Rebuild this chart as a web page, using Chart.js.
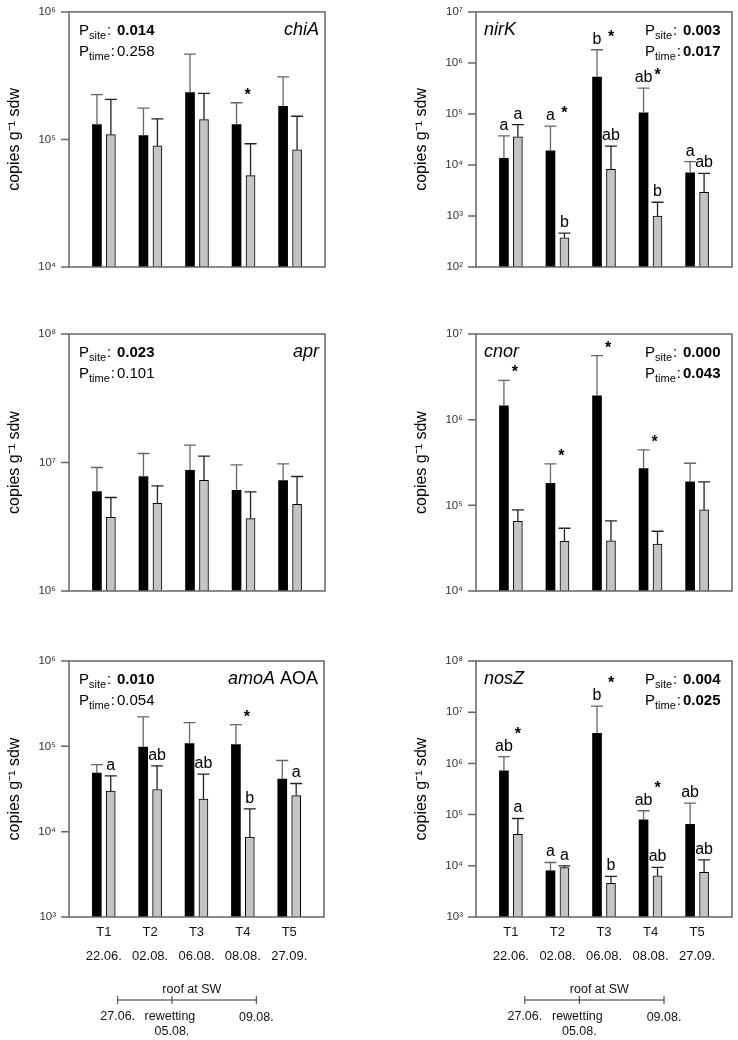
<!DOCTYPE html>
<html>
<head>
<title>Gene copies per site and time</title>
<script src="https://cdn.jsdelivr.net/npm/chart.js"></script>
<style>
  body { margin: 0; background: #fff; }
  canvas { position: absolute; }
</style>
</head>
<body>
<canvas id="chiA" width="369" height="290" style="left:0;top:0"></canvas>
<canvas id="nirK" width="369" height="290" style="left:369px;top:0"></canvas>
<canvas id="apr" width="369" height="330" style="left:0;top:290px"></canvas>
<canvas id="cnor" width="369" height="330" style="left:369px;top:290px"></canvas>
<canvas id="amoA" width="369" height="420" style="left:0;top:620px"></canvas>
<canvas id="nosZ" width="369" height="420" style="left:369px;top:620px"></canvas>

<script>
// sampling times
const times = ['T1', 'T2', 'T3', 'T4', 'T5'];
const dates = ['22.06.', '02.08.', '06.08.', '08.08.', '27.09.'];

// chiA
const chiABlack = [1.31e5, 1.07e5, 2.33e5, 1.31e5, 1.82e5];
const chiABlackUp = [2.25e5, 1.76e5, 4.67e5, 1.94e5, 3.10e5];
const chiAGray = [1.09e5, 8.9e4, 1.43e5, 5.2e4, 8.3e4];
const chiAGrayUp = [2.06e5, 1.45e5, 2.30e5, 9.25e4, 1.52e5];
const chiAStars = [0, 0, 0, 1, 0];

// nirK
const nirKBlack = [1.35e4, 1.89e4, 5.28e5, 1.05e5, 7.05e3];
const nirKBlackUp = [3.72e4, 5.75e4, 1.81e6, 3.22e5, 1.16e4];
const nirKGray = [3.56e4, 373, 8.2e3, 1.0e3, 2.92e3];
const nirKGrayUp = [6.2e4, 461, 2.34e4, 1.86e3, 6.86e3];
const nirKBlackLetters = ['a', 'a', 'b', 'ab', 'a'];
const nirKGrayLetters = ['a', 'b', 'ab', 'b', 'ab'];
const nirKStars = [0, 1, 1, 1, 0];

// apr
const aprBlack = [5.94e6, 7.78e6, 8.71e6, 6.08e6, 7.24e6];
const aprBlackUp = [9.14e6, 1.175e7, 1.365e7, 9.59e6, 9.77e6];
const aprGray = [3.75e6, 4.82e6, 7.28e6, 3.66e6, 4.73e6];
const aprGrayUp = [5.34e6, 6.58e6, 1.12e7, 5.91e6, 7.78e6];

// cnor
const cnorBlack = [1.45e6, 1.81e5, 1.90e6, 2.69e5, 1.88e5];
const cnorBlackUp = [2.87e6, 3.05e5, 5.58e6, 4.45e5, 3.1e5];
const cnorGray = [6.52e4, 3.8e4, 3.84e4, 3.54e4, 8.85e4];
const cnorGrayUp = [8.85e4, 5.4e4, 6.58e4, 4.98e4, 1.88e5];
const cnorStars = [1, 1, 1, 1, 0];

// amoA AOA
const amoABlack = [4.85e4, 9.77e4, 1.08e5, 1.05e5, 4.12e4];
const amoABlackUp = [6.12e4, 2.21e5, 1.9e5, 1.8e5, 6.82e4];
const amoAGray = [2.98e4, 3.12e4, 2.41e4, 8.63e3, 2.65e4];
const amoAGrayUp = [4.51e4, 5.9e4, 4.72e4, 1.85e4, 3.67e4];
const amoAGrayLetters = ['a', 'ab', 'ab', 'b', 'a'];
const amoAStars = [0, 0, 0, 1, 0];

// nosZ
const nosZBlack = [7.15e5, 8.0e3, 3.88e6, 7.92e4, 6.42e4];
const nosZBlackUp = [1.36e6, 1.16e4, 1.32e7, 1.19e5, 1.67e5];
const nosZGray = [4.1e4, 9.2e3, 4.54e3, 6.4e3, 7.43e3];
const nosZGrayUp = [8.4e4, 1.0e4, 6.21e3, 9.3e3, 1.31e4];
const nosZBlackLetters = ['ab', 'a', 'b', 'ab', 'ab'];
const nosZGrayLetters = ['a', 'a', 'b', 'ab', 'ab'];
const nosZStars = [1, 0, 1, 1, 0];

// timeline under the bottom panels (positions on the time axis)
const roofStart = 0.3, rewetting = 1.47, roofEnd = 3.29;

const FONT = "'Liberation Sans', Arial, sans-serif";
Chart.defaults.font.family = FONT;
Chart.defaults.color = '#000';

const SUP = {'-': '⁻', '0': '⁰', '1': '¹', '2': '²', '3': '³', '4': '⁴', '5': '⁵', '6': '⁶', '7': '⁷', '8': '⁸', '9': '⁹'};
const sup = s => String(s).split('').map(c => SUP[c]).join('');

function drawP(ctx, x, y, sub, val) {
  const bold = parseFloat(val) < 0.05;
  ctx.textAlign = 'left';
  ctx.font = '15px ' + FONT;
  ctx.fillText('P', x, y);
  ctx.font = '11px ' + FONT;
  ctx.fillText(sub, x + 10, y + 4);
  const w = ctx.measureText(sub).width;
  ctx.font = '15px ' + FONT;
  ctx.fillText(':', x + 11 + w, y);
  ctx.font = (bold ? 'bold ' : '') + '15px ' + FONT;
  ctx.fillText(val, x + 38, y);
}

const decoPlugin = {
  id: 'deco',
  afterDatasetsDraw(chart, args, o) {
    const ctx = chart.ctx, a = chart.chartArea, ys = chart.scales.y;
    ctx.save();
    // error bars (upper side only)
    [o.blackUp, o.grayUp].forEach((up, d) => {
      chart.getDatasetMeta(d).data.forEach((bar, i) => {
        const t = ys.getPixelForValue(up[i]);
        ctx.strokeStyle = d === 0 ? '#666' : '#222';
        ctx.lineWidth = 1.3;
        ctx.beginPath();
        ctx.moveTo(bar.x, bar.y);
        ctx.lineTo(bar.x, t);
        ctx.moveTo(bar.x - 6, t);
        ctx.lineTo(bar.x + 6, t);
        ctx.stroke();
      });
    });

    // frame and decade tick marks
    ctx.strokeStyle = '#666';
    ctx.lineWidth = 1.5;
    ctx.strokeRect(a.left, a.top, a.right - a.left, a.bottom - a.top);
    ctx.beginPath();
    ys.ticks.forEach(t => {
      const py = ys.getPixelForValue(t.value);
      ctx.moveTo(a.left - 8, py);
      ctx.lineTo(a.left, py);
    });
    ctx.stroke();

    // letters and stars
    ctx.fillStyle = '#000';
    ctx.textAlign = 'center';
    ctx.textBaseline = 'alphabetic';
    ctx.font = '16px ' + FONT;
    [o.blackLetters, o.grayLetters].forEach((lets, d) => {
      if (!lets) return;
      chart.getDatasetMeta(d).data.forEach((bar, i) => {
        if (!lets[i]) return;
        const up = d === 0 ? o.blackUp : o.grayUp;
        ctx.fillText(lets[i], bar.x, ys.getPixelForValue(up[i]) - 6);
      });
    });
    ctx.font = 'bold 16px ' + FONT;
    (o.stars || []).forEach((s, i) => {
      if (!s) return;
      const bar = chart.getDatasetMeta(0).data[i];
      const t = ys.getPixelForValue(o.blackUp[i]);
      const hasLetter = o.blackLetters && o.blackLetters[i];
      const base = hasLetter ? t - 6 - o.starLift : t - 3;
      ctx.fillText('*', bar.x + (hasLetter ? 14 : 11), base);
    });

    // P values
    const px = o.pSide === 'left' ? a.left + 10 : a.right - 87;
    drawP(ctx, px, a.top + 23, 'site', o.pSite);
    drawP(ctx, px, a.top + 44, 'time', o.pTime);

    // gene name
    let total = 0;
    const widths = o.gene.map(seg => {
      ctx.font = (seg.it ? 'italic ' : '') + '18px ' + FONT;
      const w = ctx.measureText(seg.t).width;
      total += w;
      return w;
    });
    let gx = o.pSide === 'left' ? a.right - 6 - total : a.left + 8;
    ctx.textAlign = 'left';
    o.gene.forEach((seg, k) => {
      ctx.font = (seg.it ? 'italic ' : '') + '18px ' + FONT;
      ctx.fillText(seg.t, gx, a.top + 23);
      gx += widths[k];
    });

    // timeline
    if (o.timeline) {
      const xs = chart.scales.x;
      const x0 = xs.getPixelForValue(roofStart);
      const x1 = xs.getPixelForValue(rewetting);
      const x2 = xs.getPixelForValue(roofEnd);
      const ly = a.bottom + 83;
      ctx.strokeStyle = '#333';
      ctx.lineWidth = 1;
      ctx.beginPath();
      ctx.moveTo(x0, ly); ctx.lineTo(x2, ly);
      [x0, x1, x2].forEach(xx => { ctx.moveTo(xx, ly - 4); ctx.lineTo(xx, ly + 4); });
      ctx.stroke();
      ctx.fillStyle = '#111';
      ctx.textAlign = 'center';
      ctx.font = '12.5px ' + FONT;
      ctx.fillText('roof at SW', xs.getPixelForValue(1.9), a.bottom + 76);
      ctx.fillText('27.06.', x0, a.bottom + 103);
      ctx.fillText('rewetting', x1 - 2, a.bottom + 103);
      ctx.fillText('05.08.', x1, a.bottom + 118);
      ctx.fillText('09.08.', x2, a.bottom + 104);
    }
    ctx.restore();
  }
};

function makePanel(id, d) {
  const xScale = {
    type: 'linear', min: -0.75, max: 4.75, offset: false,
    display: !!d.bottom,
    grid: { display: false, drawTicks: false },
    border: { display: false }
  };
  if (d.bottom) {
    xScale.afterBuildTicks = s => { s.ticks = times.map((t, i) => ({ value: i })); };
    xScale.afterFit = s => { s.height = 123; };
    xScale.ticks = {
      padding: 3, autoSkip: false, maxRotation: 0, color: '#111',
      font: { size: 13, lineHeight: 1.85 },
      callback: (v, i) => [times[i], dates[i]]
    };
  }
  new Chart(document.getElementById(id), {
    type: 'bar',
    data: {
      datasets: [
        {
          data: d.black.map((v, i) => ({ x: i - 0.15, y: v })),
          backgroundColor: '#000', borderWidth: 0,
          grouped: false, barThickness: 9
        },
        {
          data: d.gray.map((v, i) => ({ x: i + 0.15, y: v })),
          backgroundColor: '#c4c4c4', borderColor: '#000', borderWidth: 1,
          grouped: false, barThickness: 9
        }
      ]
    },
    options: {
      responsive: false,
      animation: false,
      devicePixelRatio: 1,
      events: [],
      layout: { padding: d.pad },
      plugins: {
        legend: { display: false },
        tooltip: { enabled: false },
        deco: {
          blackUp: d.blackUp, grayUp: d.grayUp,
          blackLetters: d.blackLetters, grayLetters: d.grayLetters,
          stars: d.stars, starLift: d.starLift || 0,
          pSite: d.pSite, pTime: d.pTime, pSide: d.pSide,
          gene: d.gene, timeline: !!d.bottom
        }
      },
      scales: {
        x: xScale,
        y: {
          type: 'logarithmic',
          min: Math.pow(10, d.minE), max: Math.pow(10, d.maxE),
          afterBuildTicks: s => {
            const t = [];
            for (let e = d.minE; e <= d.maxE; e++) t.push({ value: Math.pow(10, e), major: true });
            s.ticks = t;
          },
          afterFit: s => { s.width = 69; },
          // tick marks are drawn by the plugin; tickLength only offsets the labels
          grid: { display: false, drawTicks: true, tickLength: 8 },
          border: { display: false },
          ticks: {
            padding: 5, color: '#333', font: { size: 11.5 },
            callback: v => '10' + sup(Math.round(Math.log10(v)))
          },
          title: {
            display: true, text: 'copies g' + sup('-1') + ' sdw',
            font: { size: 16 }, padding: { top: 5, bottom: 0 }, color: '#000'
          }
        }
      }
    },
    plugins: [decoPlugin]
  });
}

makePanel('chiA', {
  black: chiABlack, blackUp: chiABlackUp, gray: chiAGray, grayUp: chiAGrayUp,
  stars: chiAStars, minE: 4, maxE: 6,
  pSite: '0.014', pTime: '0.258', pSide: 'left',
  gene: [{ t: 'chiA', it: true }],
  pad: { left: 0, right: 44, top: 11, bottom: 23 }
});
makePanel('nirK', {
  black: nirKBlack, blackUp: nirKBlackUp, gray: nirKGray, grayUp: nirKGrayUp,
  blackLetters: nirKBlackLetters, grayLetters: nirKGrayLetters,
  stars: nirKStars, starLift: 2, minE: 2, maxE: 7,
  pSite: '0.003', pTime: '0.017', pSide: 'right',
  gene: [{ t: 'nirK', it: true }],
  pad: { left: 38, right: 6, top: 11, bottom: 23 }
});
makePanel('apr', {
  black: aprBlack, blackUp: aprBlackUp, gray: aprGray, grayUp: aprGrayUp,
  minE: 6, maxE: 8,
  pSite: '0.023', pTime: '0.101', pSide: 'left',
  gene: [{ t: 'apr', it: true }],
  pad: { left: 0, right: 44, top: 44, bottom: 29 }
});
makePanel('cnor', {
  black: cnorBlack, blackUp: cnorBlackUp, gray: cnorGray, grayUp: cnorGrayUp,
  stars: cnorStars, minE: 4, maxE: 7,
  pSite: '0.000', pTime: '0.043', pSide: 'right',
  gene: [{ t: 'cnor', it: true }],
  pad: { left: 38, right: 6, top: 44, bottom: 29 }
});
makePanel('amoA', {
  black: amoABlack, blackUp: amoABlackUp, gray: amoAGray, grayUp: amoAGrayUp,
  grayLetters: amoAGrayLetters, stars: amoAStars, minE: 3, maxE: 6,
  pSite: '0.010', pTime: '0.054', pSide: 'left',
  gene: [{ t: 'amoA', it: true }, { t: ' AOA', it: false }],
  bottom: true,
  pad: { left: 0, right: 45, top: 41, bottom: 0 }
});
makePanel('nosZ', {
  black: nosZBlack, blackUp: nosZBlackUp, gray: nosZGray, grayUp: nosZGrayUp,
  blackLetters: nosZBlackLetters, grayLetters: nosZGrayLetters,
  stars: nosZStars, starLift: 12, minE: 3, maxE: 8,
  pSite: '0.004', pTime: '0.025', pSide: 'right',
  gene: [{ t: 'nosZ', it: true }],
  bottom: true,
  pad: { left: 38, right: 6, top: 41, bottom: 0 }
});
</script>
</body>
</html>
